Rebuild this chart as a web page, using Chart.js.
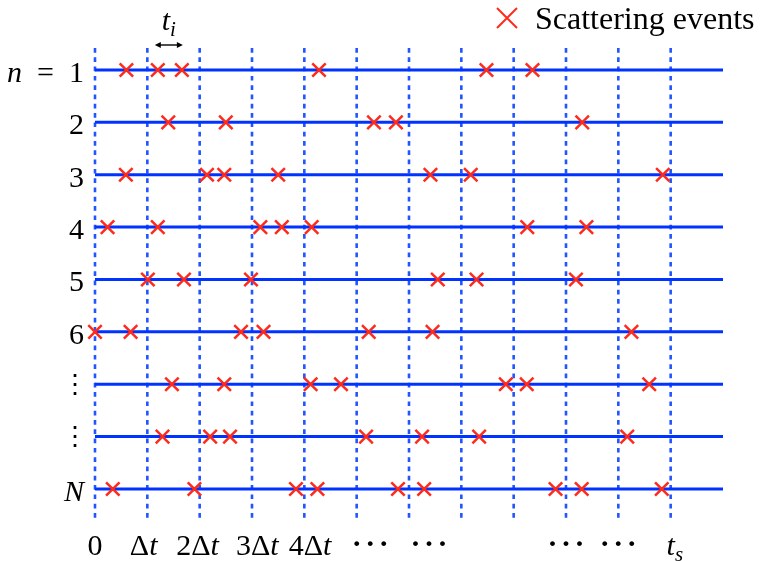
<!DOCTYPE html>
<html>
<head>
<meta charset="utf-8">
<script src="https://cdn.jsdelivr.net/npm/chart.js@4.4.1/dist/chart.umd.min.js"></script>
<style>
  html, body { margin: 0; padding: 0; background: #fff; }
  #wrap { width: 766px; height: 561px; }
</style>
</head>
<body>
<div id="wrap"><canvas id="chart"></canvas></div>
<script>
// time axis in units of Δt
const gridTimes = [0, 1, 2, 3, 4, 5, 6, 7, 8, 9, 10, 11];
const lineEnd = 12;
const tickLabels = ['0', 'Δt', '2Δt', '3Δt', '4Δt', '···', '···', '···', '···', 't_s'];
const tickPositions = [0, 0.93, 1.96, 3.1, 4.11, 5.26, 6.38, 9.0, 10.0, 11.08];

// one row per trajectory
const rowLabels = ['n\u2002=\u20021', '2', '3', '4', '5', '6', '⋮', '⋮', 'N'];

// scattering times per row
const scatterTimes = [
    [0.6, 1.2, 1.66, 4.28, 7.48, 8.36],
    [1.4, 2.5, 5.33, 5.75, 9.31],
    [0.59, 2.14, 2.47, 3.5, 6.41, 7.18, 10.85],
    [0.24, 1.2, 3.16, 3.57, 4.14, 8.26, 9.39],
    [1.01, 1.7, 2.98, 6.55, 7.29, 9.19],
    [0, 0.68, 2.79, 3.22, 5.23, 6.45, 10.25],
    [1.47, 2.47, 4.12, 4.7, 7.85, 8.25, 10.59],
    [1.29, 2.2, 2.58, 5.18, 6.25, 7.34, 10.17],
    [0.34, 1.9, 3.84, 4.25, 5.79, 6.29, 8.8, 9.3, 10.83]
];

// t_i spans the 2nd and 3rd events of the first row
const intervalEvents = [1, 2];
const legendLabel = 'Scattering events';

const yTop = 0.58;
const yBottom = 9.573;
const RED = '#ff2a1a';
const SERIF = "'Liberation Serif', 'DejaVu Serif', serif";

// letters italic (math style), '_' makes next char a subscript
function mathRuns(str) {
    const runs = [];
    for (let i = 0; i < str.length; i++) {
        const ch = str[i];
        if (ch === '_') {
            runs.push({ t: str[i + 1], it: true, sub: true });
            i++;
        } else {
            runs.push({ t: ch, it: /[A-Za-z]/.test(ch), sub: false, dot: ch === '·' });
        }
    }
    return runs;
}

function drawMath(ctx, str, x, y, size, align) {
    const runs = mathRuns(str);
    const fontOf = r => `${r.it ? 'italic ' : ''}${r.dot ? 'bold ' : ''}${r.sub ? size * 0.7 : size}px ${SERIF}`;
    let width = 0;
    runs.forEach(r => {
        ctx.font = fontOf(r);
        // math-axis dots get a wider, fixed advance
        r.w = r.dot ? size * 0.45 : ctx.measureText(r.t).width;
        width += r.w;
    });
    let cx = align === 'right' ? x - width : align === 'center' ? x - width / 2 : x;
    ctx.textAlign = 'left';
    ctx.textBaseline = 'alphabetic';
    runs.forEach(r => {
        ctx.font = fontOf(r);
        if (r.dot) {
            ctx.textAlign = 'center';
            ctx.fillText(r.t, cx + r.w / 2, y - 2);
            ctx.textAlign = 'left';
        } else {
            ctx.fillText(r.t, cx, r.sub ? y + size * 0.2 : y);
        }
        cx += r.w;
    });
}

const labelPlugin = {
    id: 'labels',
    afterDraw(chart) {
        const { ctx, scales: { x, y } } = chart;
        ctx.save();
        ctx.fillStyle = '#000';

        // row labels
        rowLabels.forEach((lab, i) => {
            const py = y.getPixelForValue(i + 1);
            if (lab === '⋮') {
                ctx.font = `26px 'DejaVu Serif'`;
                ctx.textAlign = 'center';
                ctx.textBaseline = 'middle';
                ctx.fillText(lab, 75, py + 2);
            } else {
                drawMath(ctx, lab, 84, py + 12, 30, 'right');
            }
        });

        // time labels
        tickLabels.forEach((lab, i) => {
            drawMath(ctx, lab, x.getPixelForValue(tickPositions[i]), 555, 30, 'center');
        });

        // t_i interval arrow
        const row = scatterTimes[0];
        const x0 = x.getPixelForValue(row[intervalEvents[0]]) - 3;
        const x1 = x.getPixelForValue(row[intervalEvents[1]]) + 1;
        const ay = chart.chartArea.top - 3;
        ctx.strokeStyle = '#000';
        ctx.lineWidth = 1.4;
        ctx.beginPath();
        ctx.moveTo(x0 + 3, ay);
        ctx.lineTo(x1 - 3, ay);
        ctx.stroke();
        [[x0, 1], [x1, -1]].forEach(([ax, d]) => {
            ctx.beginPath();
            ctx.moveTo(ax, ay);
            ctx.lineTo(ax + d * 6, ay - 3);
            ctx.lineTo(ax + d * 6, ay + 3);
            ctx.closePath();
            ctx.fill();
        });
        drawMath(ctx, 't_i', (x0 + x1) / 2, 30, 30, 'center');

        // legend
        const lx = 507, ly = 18, h = 10;
        ctx.strokeStyle = RED;
        ctx.lineWidth = 2;
        ctx.beginPath();
        ctx.moveTo(lx - h, ly - h); ctx.lineTo(lx + h, ly + h);
        ctx.moveTo(lx + h, ly - h); ctx.lineTo(lx - h, ly + h);
        ctx.stroke();
        ctx.fillStyle = '#000';
        ctx.font = `32px ${SERIF}`;
        ctx.textAlign = 'left';
        ctx.textBaseline = 'alphabetic';
        ctx.fillText(legendLabel, 535, 29);
        ctx.restore();
    }
};

const gridSets = gridTimes.map(t => ({
    type: 'line',
    data: [{ x: t, y: yTop }, { x: t, y: yBottom }],
    borderColor: '#2255ff',
    borderWidth: 2.6,
    borderDash: [4.7, 4.6],
    pointRadius: 0,
    clip: false,
    order: 3
}));

const rowSets = rowLabels.map((_, i) => ({
    type: 'line',
    data: [{ x: 0, y: i + 1 }, { x: lineEnd, y: i + 1 }],
    borderColor: '#0033ff',
    borderWidth: 3,
    pointRadius: 0,
    clip: false,
    order: 2
}));

const eventPoints = [];
scatterTimes.forEach((row, i) => row.forEach(t => eventPoints.push({ x: t, y: i + 1 })));

new Chart(document.getElementById('chart'), {
    type: 'scatter',
    data: {
        datasets: [
            ...gridSets,
            ...rowSets,
            {
                label: legendLabel,
                data: eventPoints,
                pointStyle: 'crossRot',
                pointRadius: 9.5,
                pointBorderWidth: 2.5,
                borderColor: RED,
                backgroundColor: RED,
                clip: false,
                order: 1
            }
        ]
    },
    options: {
        responsive: true,
        maintainAspectRatio: false,
        animation: false,
        layout: { padding: { left: 95, right: 43, top: 48, bottom: 42 } },
        plugins: { legend: { display: false }, tooltip: { enabled: false } },
        scales: {
            x: { type: 'linear', min: 0, max: lineEnd, display: false },
            y: { type: 'linear', min: yTop, max: yBottom, reverse: true, display: false }
        }
    },
    plugins: [labelPlugin]
});
</script>
</body>
</html>
